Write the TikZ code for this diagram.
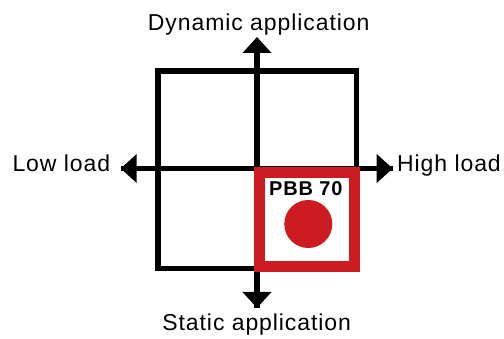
\documentclass[tikz,border=0pt]{standalone}
\usepackage{fontspec}
\setmainfont{Liberation Sans}
\usetikzlibrary{arrows.meta}
\definecolor{pbbred}{RGB}{204,27,33}
\tikzset{
  lbl/.style={inner sep=0pt, anchor=base, font=\fontsize{23}{27}\selectfont\addfontfeature{LetterSpace=4}},
  axis/.style={line width=5.5pt, -{Triangle[width=28pt,length=16pt]}},
  grid/.style={line width=5.5pt},
  redbox/.style={draw=pbbred, line width=11pt, fill=white},
}
\begin{document}
\begin{tikzpicture}[x=1pt,y=-1pt]
\useasboundingbox (0,0) rectangle (504,339);
\fill[white] (0,0) rectangle (504,339);
% quadrant box
\draw[grid] (158,71) rectangle (356.5,268.5);
% axis end coordinates
\coordinate (center) at (257,168.5);
\coordinate (top) at (257,37);
\coordinate (bottom) at (257,308);
\coordinate (left) at (120.7,168.5);
\coordinate (right) at (392.7,168.5);
\coordinate (vstart) at (257,290);
\draw[axis] (bottom) -- (top);
\draw[axis] (center) -- (bottom);
\draw[axis] (right) -- (left);
\draw[axis] (left) -- (right);
% red box
\draw[redbox] (259.5,172.5) rectangle (354.7,266.3);
\node[inner sep=0pt, anchor=base, font=\fontsize{20}{24}\selectfont\bfseries\addfontfeature{LetterSpace=4}] (pbb) at (305.8,195.7) {PBB 70};
\fill[pbbred] (308.3,224) circle (24) node (dot) {};
% labels
\node[lbl] (dyn) at (258.7,31) {Dynamic application};
\node[lbl] (stat) at (256.7,331) {Static application};
\node[lbl] (low) at (61.3,172) {Low load};
\node[lbl] (high) at (449,172) {High load};
\end{tikzpicture}
\end{document}
